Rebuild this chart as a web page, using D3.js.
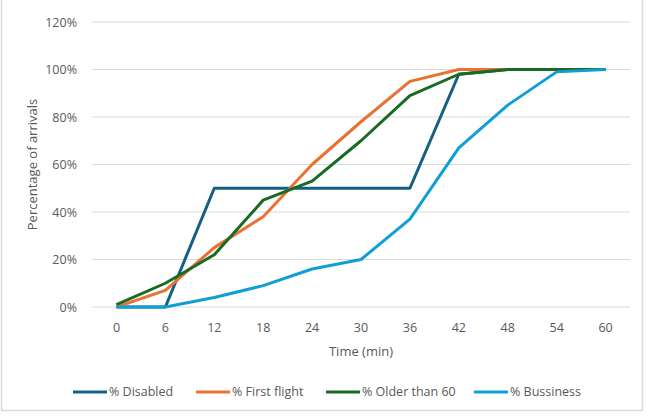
<!DOCTYPE html>
<html>
<head>
<meta charset="utf-8">
<script src="https://cdn.jsdelivr.net/npm/d3@7"></script>
<style>
  body { margin: 0; background: #fff; }
  svg text { font-family: "Open Sans", "Noto Sans", sans-serif; fill: #595959; }
</style>
</head>
<body>
<div id="chart"></div>
<script>
const times = ['0', '6', '12', '18', '24', '30', '36', '42', '48', '54', '60'];
const yTicks = [0, 0.2, 0.4, 0.6, 0.8, 1.0, 1.2];

const disabled = [0, 0, 0.50, 0.50, 0.50, 0.50, 0.50, 0.98, 1.00, 1.00, 1.00];
const firstFlight = [0, 0.07, 0.25, 0.38, 0.60, 0.78, 0.95, 1.00, 1.00, 1.00, 1.00];
const olderThan60 = [0.01, 0.10, 0.22, 0.45, 0.53, 0.70, 0.89, 0.98, 1.00, 1.00, 1.00];
const bussiness = [0, 0, 0.04, 0.09, 0.16, 0.20, 0.37, 0.67, 0.85, 0.99, 1.00];

const seriesNames = ['% Disabled', '% First flight', '% Older than 60', '% Bussiness'];
const seriesColors = ['#156082', '#E97132', '#196B24', '#0F9ED5'];

const series = [disabled, firstFlight, olderThan60, bussiness].map((values, i) => ({
  name: seriesNames[i],
  color: seriesColors[i],
  values: values
}));

const width = 649, height = 417;
const margin = { top: 22, right: 19, bottom: 110, left: 92 };

const svg = d3.select('#chart').append('svg')
  .attr('width', width)
  .attr('height', height);

// chart frame
svg.append('rect')
  .attr('x', 1.5).attr('y', -5)
  .attr('width', width - 8).attr('height', height - 1.5)
  .attr('fill', 'none')
  .attr('stroke', '#d9d9d9')
  .attr('stroke-width', 1.5);

const x = d3.scaleBand()
  .domain(times)
  .range([margin.left, width - margin.right]);

const y = d3.scaleLinear()
  .domain([0, 1.2])
  .range([height - margin.bottom, margin.top]);

// gridlines
svg.append('g')
  .selectAll('line')
  .data(yTicks)
  .join('line')
  .attr('x1', margin.left)
  .attr('x2', width - margin.right)
  .attr('y1', d => y(d))
  .attr('y2', d => y(d))
  .attr('stroke', '#d9d9d9')
  .attr('stroke-width', 1);

// y axis labels
const yAxis = svg.append('g')
  .attr('transform', `translate(${margin.left - 12},0)`)
  .call(d3.axisLeft(y).tickValues(yTicks).tickFormat(d3.format('.0%')).tickSize(0));
yAxis.select('.domain').remove();
yAxis.selectAll('text').attr('font-size', 12.5).attr('fill', '#595959');

// x axis labels
const xAxis = svg.append('g')
  .attr('transform', `translate(0,${height - margin.bottom + 13})`)
  .call(d3.axisBottom(x).tickSize(0));
xAxis.select('.domain').remove();
xAxis.selectAll('text').attr('font-size', 12.5).attr('fill', '#595959');

// axis titles
svg.append('text')
  .attr('x', (margin.left + width - margin.right) / 2)
  .attr('y', 356)
  .attr('text-anchor', 'middle')
  .attr('font-size', 13)
  .text('Time (min)');

svg.append('text')
  .attr('transform', `translate(37,${y(0.6)}) rotate(-90)`)
  .attr('text-anchor', 'middle')
  .attr('font-size', 13)
  .text('Percentage of arrivals');

// lines
const line = d3.line()
  .x((d, i) => x(times[i]) + x.bandwidth() / 2)
  .y(d => y(d));

svg.append('g')
  .selectAll('path')
  .data(series)
  .join('path')
  .attr('d', d => line(d.values))
  .attr('fill', 'none')
  .attr('stroke', d => d.color)
  .attr('stroke-width', 3)
  .attr('stroke-linejoin', 'round');

// legend
const legendX = [73, 196, 326, 474];
const legend = svg.append('g')
  .selectAll('g')
  .data(series)
  .join('g')
  .attr('transform', (d, i) => `translate(${legendX[i]},392)`);

legend.append('line')
  .attr('x1', 0).attr('x2', 34)
  .attr('stroke', d => d.color)
  .attr('stroke-width', 3);

legend.append('text')
  .attr('x', 36)
  .attr('dy', '0.35em')
  .attr('font-size', 12.5)
  .text(d => d.name);
</script>
</body>
</html>
